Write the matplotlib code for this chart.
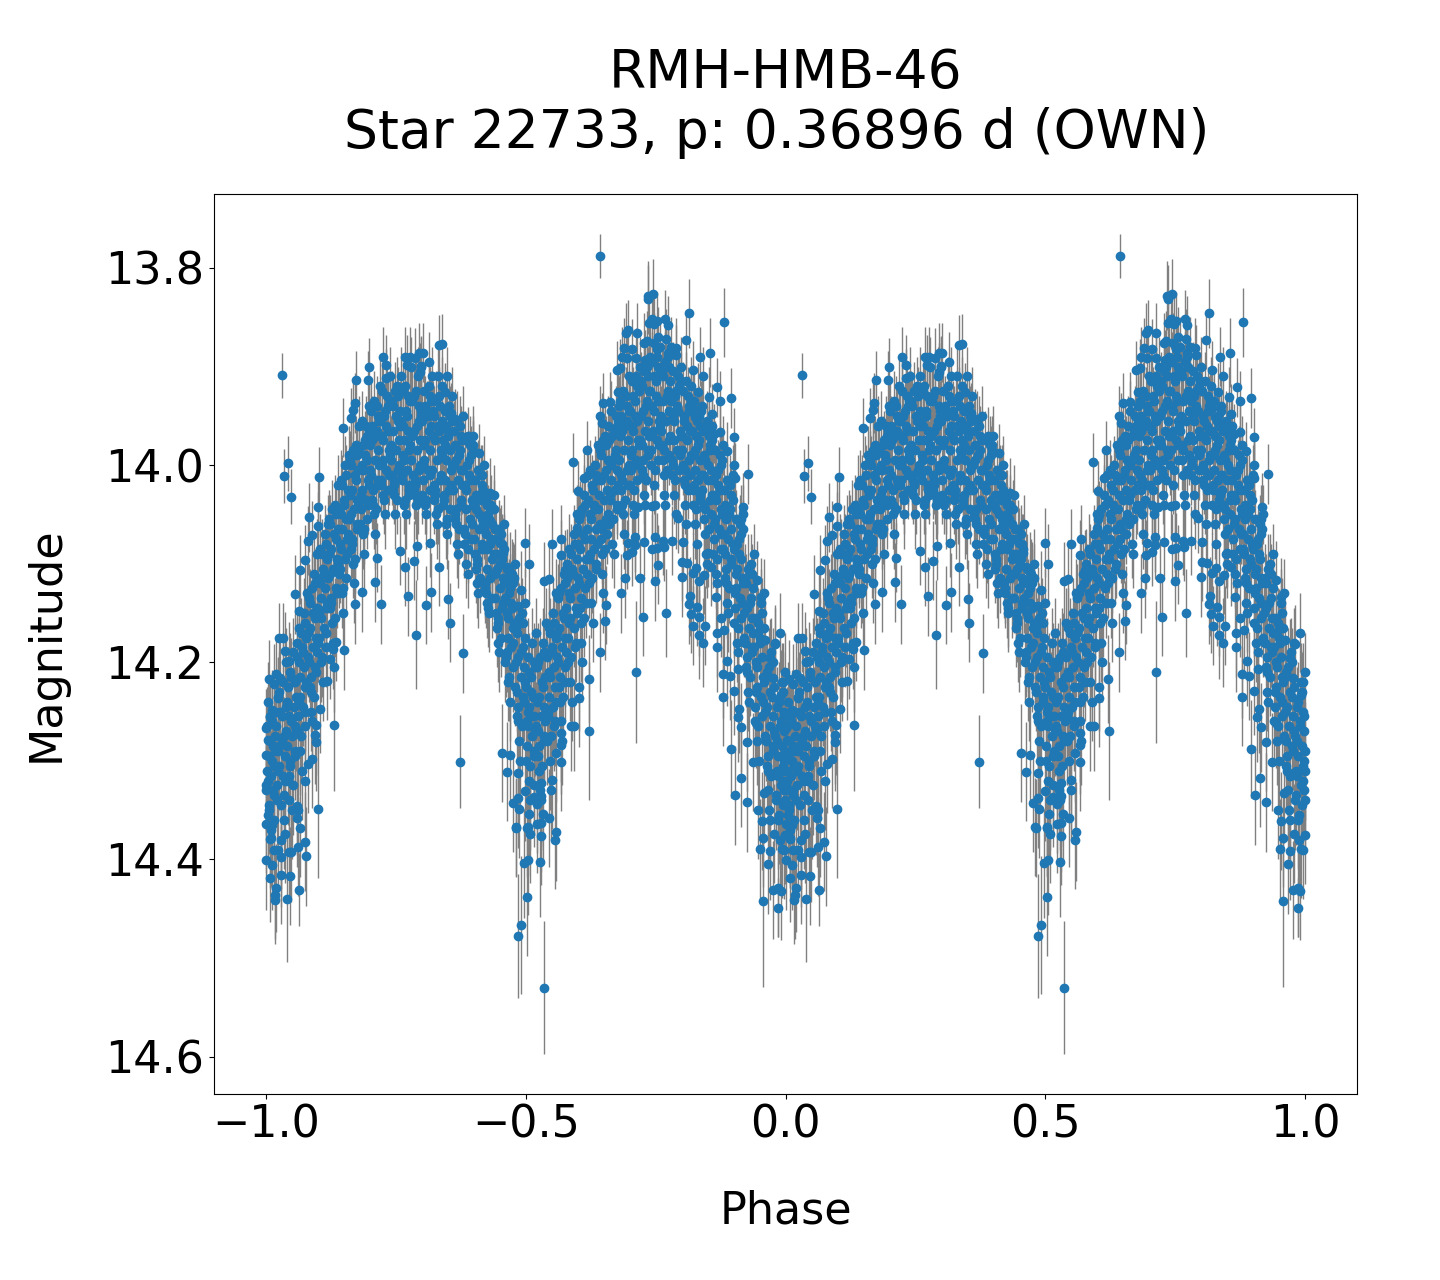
import numpy as np
import matplotlib
matplotlib.use("Agg")
import matplotlib.pyplot as plt

# points on the outline of the folded curve, read one by one
edge_phase = [
    .000, .001, .001, .001, .001, .003, .006, .008, .008, .008,
    .009, .012, .012, .015, .015, .017, .018, .020, .020, .024,
    .024, .025, .027, .029, .029, .0315, .032, .035, .037, .037,
    .040, .043, .045, .045, .047, .049, .049, .055, .059, .060,
    .062, .062, .064, .064, .066, .066, .075, .076, .076, .078,
    .080, .080, .083, .089, .089, .095, .0955, .0965, .0995, .0995,
    .0995, .103, .104, .118, .123, .130, .131, .1315, .135, .149,
    .151, .163, .168, .171, .172, .174, .185, .197, .199, .210,
    .213, .222, .225, .231, .232, .258, .268, .268, .272, .274,
    .277, .284, .287, .289, .291, .295, .296, .299, .302, .309,
    .314, .316, .318, .331, .334, .334, .339, .345, .349, .351,
    .354, .357, .364, .373, .380, .389, .398, .411, .416, .416,
    .426, .431, .432, .441, .450, .454, .457, .462, .463, .463,
    .470, .470, .475, .476, .476, .481, .482, .486, .486, .486,
    .486, .488, .491, .491, .497, .499, .499, .503, .503, .504,
    .505, .506, .507, .509, .515, .515, .522, .522, .528, .530,
    .530, .530, .530, .534, .5357, .536, .544, .545, .550, .550,
    .557, .558, .559, .567, .567, .567, .567, .568, .576, .587,
    .5915, .593, .599, .601, .603, .603, .604, .613, .617, .621,
    .622, .642, .642, .6435, .646, .649, .653, .655, .663, .675,
    .678, .682, .684, .685, .6897, .692, .693, .694, .695, .696,
    .697, .705, .705, .711, .711, .7125, .713, .714, .717, .720,
    .725, .728, .728, .730, .733, .7345, .736, .7365, .7425, .7425,
    .7445, .744, .746, .747, .749, .749, .752, .752, .752, .755,
    .755, .765, .767, .768, .770, .770, .773, .773, .781, .789,
    .790, .794, .800, .801, .802, .809, .811, .815, .815, .817,
    .819, .821, .821, .821, .822, .826, .828, .830, .832, .834,
    .834, .834, .836, .842, .842, .844, .846, .849, .850, .853,
    .855, .857, .858, .863, .866, .868, .868, .869, .874, .874,
    .875, .879, .879, .881, .882, .887, .888, .893, .896, .896,
    .901, .901, .901, .902, .903, .908, .909, .911, .914, .915,
    .915, .918, .925, .925, .928, .937, .944, .945, .948, .950,
    .951, .953, .954, .9575, .957, .959, .961, .967, .971, .971,
    .971, .976, .976, .978, .980, .986, .986, .990, .991, .993,
    .992, .996, .998, .999, .999, .999, .997, .999, .998, .997,
]
edge_mag = [
    14.267, 14.401, 14.294, 14.330, 14.364, 14.279, 14.217, 14.256, 14.379, 14.419,
    14.378, 14.248, 14.406, 14.222, 14.390, 14.441, 14.436, 14.429, 14.212, 14.236,
    14.390, 14.175, 14.216, 14.416, 14.398, 13.909, 14.175, 14.011, 14.189, 14.374,
    14.440, 13.998, 14.199, 14.393, 14.417, 14.032, 14.393, 14.131, 14.346, 14.358,
    14.350, 14.387, 14.148, 14.431, 14.106, 14.368, 14.382, 14.096, 14.320, 14.397,
    14.077, 14.303, 14.053, 14.071, 14.298, 14.274, 14.281, 14.264, 14.043, 14.062,
    14.349, 14.012, 14.247, 14.219, 14.197, 14.187, 14.205, 14.264, 14.179, 13.962,
    14.188, 13.952, 13.944, 13.937, 14.141, 13.914, 14.129, 13.914, 13.901, 14.119,
    14.094, 14.141, 13.890, 13.912, 13.898, 14.087, 13.890, 14.103, 13.898, 14.133,
    13.890, 14.097, 13.891, 14.172, 14.082, 13.886, 13.906, 13.899, 13.886, 14.142,
    13.895, 14.079, 14.129, 13.910, 14.103, 13.878, 13.877, 13.926, 13.910, 14.136,
    14.160, 13.947, 13.953, 14.301, 14.191, 13.971, 13.980, 13.988, 14.010, 14.028,
    14.040, 14.057, 14.028, 14.065, 14.079, 14.292, 14.089, 14.118, 14.103, 14.311,
    14.108, 14.294, 14.118, 14.143, 14.343, 14.367, 14.368, 14.143, 14.338, 14.312,
    14.478, 14.349, 14.127, 14.467, 14.404, 14.079, 14.331, 14.438, 14.368, 14.367,
    14.401, 14.100, 14.354, 14.374, 14.325, 14.337, 14.344, 14.364, 14.403, 14.323,
    14.336, 14.363, 14.376, 14.354, 14.530, 14.118, 14.116, 14.358, 14.080, 14.319,
    14.380, 14.292, 14.372, 14.091, 14.272, 14.284, 14.301, 14.075, 14.106, 14.265,
    13.997, 14.265, 14.064, 14.026, 14.225, 14.236, 14.051, 14.013, 13.985, 14.217,
    14.270, 13.950, 14.190, 13.788, 13.957, 13.937, 14.158, 14.142, 13.936, 13.904,
    13.926, 13.902, 14.130, 13.890, 13.881, 14.115, 13.866, 14.091, 13.891, 14.079,
    13.863, 13.882, 14.088, 14.073, 14.081, 14.210, 13.891, 13.866, 14.043, 14.115,
    14.154, 13.876, 14.078, 13.893, 13.874, 13.828, 13.832, 13.856, 13.852, 14.041,
    13.826, 14.085, 13.876, 13.857, 14.073, 14.118, 13.854, 13.882, 14.084, 13.870,
    14.101, 14.077, 14.083, 13.852, 13.872, 14.150, 13.858, 13.886, 14.077, 13.881,
    13.888, 14.054, 14.114, 14.098, 14.078, 13.873, 14.099, 13.846, 14.141, 14.133,
    14.151, 13.904, 13.942, 14.109, 14.163, 13.951, 14.104, 14.144, 13.926, 14.118,
    14.154, 14.172, 13.890, 13.910, 14.180, 14.111, 14.163, 13.962, 14.089, 13.931,
    13.886, 14.103, 13.948, 13.968, 14.134, 14.170, 14.185, 13.921, 13.935, 13.966,
    14.155, 14.212, 14.235, 13.855, 14.167, 13.986, 14.199, 14.214, 13.932, 14.288,
    13.972, 14.000, 14.229, 14.013, 14.335, 14.256, 14.207, 14.247, 14.317, 14.055,
    14.266, 14.043, 14.281, 14.342, 14.009, 14.301, 14.262, 14.117, 14.350, 14.166,
    14.389, 14.134, 14.361, 14.442, 14.378, 14.333, 14.177, 14.405, 14.360, 14.391,
    14.196, 14.216, 14.431, 14.374, 14.182, 14.449, 14.429, 14.170, 14.432, 14.389,
    14.233, 14.220, 14.270, 14.310, 14.340, 14.375, 14.390, 14.290, 14.330, 14.250,
]
edge_err = [
    .04, .05, .04, .045, .05, .04, .04, .04, .05, .045,
    .05, .04, .045, .04, .05, .045, .045, .045, .04, .04,
    .05, .035, .04, .05, .05, .023, .035, .027, .04, .05,
    .064, .028, .04, .05, .05, .028, .05, .04, .05, .05,
    .05, .05, .04, .037, .035, .05, .05, .035, .05, .05,
    .035, .05, .035, .035, .05, .05, .05, .05, .03, .035,
    .07, .03, .045, .04, .04, .04, .045, .067, .04, .03,
    .04, .03, .03, .03, .04, .03, .04, .03, .03, .04,
    .035, .04, .03, .03, .03, .035, .03, .04, .03, .04,
    .03, .04, .03, .055, .035, .03, .03, .03, .03, .04,
    .03, .035, .04, .03, .04, .03, .03, .03, .03, .04,
    .04, .03, .03, .047, .04, .03, .03, .03, .03, .03,
    .035, .035, .035, .035, .035, .05, .035, .04, .04, .05,
    .04, .05, .04, .04, .05, .05, .05, .04, .05, .05,
    .063, .05, .04, .07, .055, .035, .05, .06, .05, .05,
    .055, .04, .05, .05, .05, .05, .05, .05, .055, .05,
    .05, .05, .05, .05, .067, .04, .04, .05, .035, .05,
    .05, .05, .05, .035, .05, .05, .05, .035, .04, .045,
    .03, .045, .035, .03, .045, .05, .035, .03, .03, .045,
    .07, .03, .04, .022, .03, .03, .04, .04, .03, .03,
    .03, .03, .04, .03, .03, .04, .03, .035, .03, .035,
    .03, .03, .035, .035, .035, .072, .03, .03, .035, .04,
    .04, .03, .035, .03, .03, .035, .035, .03, .03, .035,
    .035, .035, .03, .03, .035, .04, .03, .03, .035, .03,
    .04, .035, .035, .03, .03, .045, .03, .03, .035, .03,
    .03, .035, .04, .04, .035, .03, .04, .035, .04, .04,
    .04, .03, .03, .04, .04, .03, .04, .04, .03, .04,
    .04, .045, .03, .03, .045, .04, .04, .03, .035, .03,
    .035, .04, .03, .03, .04, .045, .045, .03, .03, .03,
    .04, .045, .05, .035, .045, .03, .045, .045, .03, .05,
    .03, .03, .045, .035, .05, .045, .045, .045, .05, .035,
    .045, .035, .05, .05, .03, .05, .045, .04, .05, .04,
    .05, .04, .05, .087, .05, .05, .04, .05, .05, .05,
    .04, .04, .05, .05, .04, .03, .05, .04, .05, .05,
    .045, .04, .045, .05, .05, .05, .05, .05, .05, .045,
]

# the filled body of the curve, twelve readings per 0.02 of phase
core_phase = [
    .002, .011, .006, .017, .004, .014, .009, .019, .003, .012, .016, .007,
    .024, .033, .021, .038, .027, .036, .029, .039, .023, .031, .035, .026,
    .041, .053, .046, .058, .044, .056, .049, .059, .043, .051, .055, .047,
    .064, .073, .061, .078, .067, .076, .069, .079, .063, .071, .075, .066,
    .081, .093, .086, .098, .084, .096, .089, .099, .083, .091, .095, .087,
    .104, .113, .101, .118, .107, .116, .109, .119, .103, .111, .115, .106,
    .121, .133, .126, .138, .124, .136, .129, .139, .123, .131, .135, .127,
    .144, .153, .141, .158, .147, .156, .149, .159, .143, .151, .155, .146,
    .161, .173, .166, .178, .164, .176, .169, .179, .163, .171, .175, .167,
    .184, .193, .181, .198, .187, .196, .189, .199, .183, .191, .195, .186,
    .201, .213, .206, .218, .204, .216, .209, .219, .203, .211, .215, .207,
    .224, .233, .221, .238, .227, .236, .229, .239, .223, .231, .235, .226,
    .241, .253, .246, .258, .244, .256, .249, .259, .243, .251, .255, .247,
    .264, .273, .261, .278, .267, .276, .269, .279, .263, .271, .275, .266,
    .281, .293, .286, .298, .284, .296, .289, .299, .283, .291, .295, .287,
    .304, .313, .301, .318, .307, .316, .309, .319, .303, .311, .315, .306,
    .321, .333, .326, .338, .324, .336, .329, .339, .323, .331, .335, .327,
    .344, .353, .341, .358, .347, .356, .349, .359, .343, .351, .355, .346,
    .361, .373, .366, .378, .364, .376, .369, .379, .363, .371, .375, .367,
    .384, .393, .381, .398, .387, .396, .389, .399, .383, .391, .395, .386,
    .401, .413, .406, .418, .404, .416, .409, .419, .403, .411, .415, .407,
    .424, .433, .421, .438, .427, .436, .429, .439, .423, .431, .435, .426,
    .441, .453, .446, .458, .444, .456, .449, .459, .443, .451, .455, .447,
    .464, .473, .461, .478, .467, .476, .469, .479, .463, .471, .475, .466,
    .481, .493, .486, .498, .484, .496, .489, .499, .483, .491, .495, .487,
    .504, .513, .501, .518, .507, .516, .509, .519, .503, .511, .515, .506,
    .521, .533, .526, .538, .524, .536, .529, .539, .523, .531, .535, .527,
    .544, .553, .541, .558, .547, .556, .549, .559, .543, .551, .555, .546,
    .561, .573, .566, .578, .564, .576, .569, .579, .563, .571, .575, .567,
    .584, .593, .581, .598, .587, .596, .589, .599, .583, .591, .595, .586,
    .601, .613, .606, .618, .604, .616, .609, .619, .603, .611, .615, .607,
    .624, .633, .621, .638, .627, .636, .629, .639, .623, .631, .635, .626,
    .641, .653, .646, .658, .644, .656, .649, .659, .643, .651, .655, .647,
    .664, .673, .661, .678, .667, .676, .669, .679, .663, .671, .675, .666,
    .681, .693, .686, .698, .684, .696, .689, .699, .683, .691, .695, .687,
    .704, .713, .701, .718, .707, .716, .709, .719, .703, .711, .715, .706,
    .721, .733, .726, .738, .724, .736, .729, .739, .723, .731, .735, .727,
    .744, .753, .741, .758, .747, .756, .749, .759, .743, .751, .755, .746,
    .761, .773, .766, .778, .764, .776, .769, .779, .763, .771, .775, .767,
    .784, .793, .781, .798, .787, .796, .789, .799, .783, .791, .795, .786,
    .801, .813, .806, .818, .804, .816, .809, .819, .803, .811, .815, .807,
    .824, .833, .821, .838, .827, .836, .829, .839, .823, .831, .835, .826,
    .841, .853, .846, .858, .844, .856, .849, .859, .843, .851, .855, .847,
    .864, .873, .861, .878, .867, .876, .869, .879, .863, .871, .875, .866,
    .881, .893, .886, .898, .884, .896, .889, .899, .883, .891, .895, .887,
    .904, .913, .901, .918, .907, .916, .909, .919, .903, .911, .915, .906,
    .921, .933, .926, .938, .924, .936, .929, .939, .923, .931, .935, .927,
    .944, .953, .941, .958, .947, .956, .949, .959, .943, .951, .955, .946,
    .961, .973, .966, .978, .964, .976, .969, .979, .963, .971, .975, .967,
    .984, .993, .981, .998, .987, .996, .989, .999, .983, .991, .995, .986,
]
core_mag = [
    14.31, 14.26, 14.35, 14.29, 14.24, 14.33, 14.37, 14.25, 14.32, 14.30, 14.36, 14.28,
    14.29, 14.22, 14.34, 14.27, 14.25, 14.32, 14.38, 14.20, 14.31, 14.28, 14.36, 14.23,
    14.24, 14.19, 14.30, 14.27, 14.34, 14.22, 14.26, 14.18, 14.32, 14.35, 14.29, 14.21,
    14.20, 14.15, 14.27, 14.22, 14.17, 14.25, 14.31, 14.13, 14.24, 14.19, 14.16, 14.29,
    14.17, 14.11, 14.23, 14.19, 14.14, 14.21, 14.26, 14.09, 14.20, 14.15, 14.12, 14.25,
    14.12, 14.07, 14.18, 14.14, 14.09, 14.17, 14.22, 14.06, 14.15, 14.11, 14.08, 14.20,
    14.09, 14.04, 14.14, 14.10, 14.06, 14.13, 14.18, 14.02, 14.11, 14.07, 14.05, 14.16,
    14.05, 14.00, 14.11, 14.07, 14.02, 14.09, 14.15, 13.99, 14.08, 14.04, 14.01, 14.13,
    14.03, 13.98, 14.08, 14.04, 14.00, 14.06, 14.12, 13.96, 14.05, 14.01, 13.99, 14.10,
    14.00, 13.96, 14.06, 14.02, 13.98, 14.04, 14.09, 13.94, 14.03, 13.99, 13.97, 14.07,
    13.98, 13.94, 14.04, 14.00, 13.96, 14.02, 14.07, 13.92, 14.01, 13.97, 13.95, 14.05,
    13.97, 13.93, 14.02, 13.99, 13.95, 14.01, 14.05, 13.91, 14.00, 13.96, 13.94, 14.03,
    13.98, 13.92, 14.03, 13.96, 13.94, 14.00, 14.05, 13.91, 14.01, 13.95, 13.93, 14.02,
    13.96, 13.93, 14.01, 13.98, 13.92, 14.03, 14.05, 13.90, 13.99, 13.95, 14.02, 14.04,
    13.97, 13.91, 14.02, 13.95, 13.93, 14.00, 14.04, 13.90, 14.01, 13.96, 13.94, 14.03,
    13.98, 13.92, 14.03, 13.96, 13.94, 14.01, 14.05, 13.91, 14.00, 13.95, 13.93, 14.04,
    13.97, 13.93, 14.03, 13.99, 13.95, 14.01, 14.06, 13.92, 14.02, 13.96, 13.94, 14.05,
    13.98, 13.94, 14.04, 14.00, 13.96, 14.02, 14.07, 13.93, 14.03, 13.97, 13.95, 14.06,
    14.00, 13.96, 14.06, 14.02, 13.98, 14.04, 14.09, 13.95, 14.05, 13.99, 13.97, 14.08,
    14.02, 13.98, 14.08, 14.04, 14.00, 14.06, 14.11, 13.97, 14.07, 14.01, 13.99, 14.10,
    14.04, 14.01, 14.10, 14.06, 14.03, 14.08, 14.13, 14.00, 14.09, 14.05, 14.02, 14.12,
    14.07, 14.04, 14.12, 14.09, 14.05, 14.11, 14.15, 14.03, 14.13, 14.08, 14.06, 14.14,
    14.11, 14.07, 14.16, 14.12, 14.09, 14.14, 14.19, 14.06, 14.15, 14.10, 14.08, 14.18,
    14.15, 14.11, 14.20, 14.16, 14.13, 14.18, 14.24, 14.10, 14.19, 14.14, 14.12, 14.22,
    14.20, 14.15, 14.26, 14.22, 14.17, 14.24, 14.30, 14.14, 14.23, 14.19, 14.16, 14.28,
    14.25, 14.18, 14.30, 14.27, 14.21, 14.29, 14.34, 14.17, 14.26, 14.23, 14.20, 14.32,
    14.24, 14.18, 14.31, 14.26, 14.20, 14.28, 14.34, 14.16, 14.27, 14.22, 14.19, 14.33,
    14.21, 14.15, 14.28, 14.24, 14.17, 14.26, 14.33, 14.13, 14.25, 14.19, 14.16, 14.30,
    14.17, 14.11, 14.24, 14.19, 14.13, 14.22, 14.28, 14.10, 14.20, 14.15, 14.12, 14.26,
    14.13, 14.07, 14.20, 14.15, 14.09, 14.18, 14.24, 14.05, 14.16, 14.11, 14.08, 14.22,
    14.08, 14.03, 14.16, 14.11, 14.05, 14.14, 14.20, 14.01, 14.12, 14.07, 14.04, 14.18,
    14.05, 14.00, 14.12, 14.08, 14.02, 14.10, 14.16, 13.98, 14.09, 14.04, 14.01, 14.14,
    14.03, 13.97, 14.09, 14.05, 13.99, 14.07, 14.13, 13.96, 14.06, 14.01, 13.98, 14.11,
    14.00, 13.95, 14.06, 14.02, 13.97, 14.04, 14.09, 13.94, 14.03, 13.99, 13.96, 14.08,
    13.97, 13.93, 14.04, 14.00, 13.95, 14.02, 14.07, 13.91, 14.01, 13.96, 13.94, 14.05,
    13.96, 13.91, 14.02, 13.98, 13.93, 14.00, 14.05, 13.90, 13.99, 13.95, 13.92, 14.04,
    13.95, 13.90, 14.01, 13.97, 13.92, 13.99, 14.04, 13.89, 13.98, 13.94, 13.91, 14.03,
    13.94, 13.89, 14.00, 13.96, 13.91, 13.98, 14.04, 13.88, 13.97, 13.93, 13.90, 14.02,
    13.95, 13.89, 14.01, 13.97, 13.91, 13.99, 14.04, 13.88, 13.98, 13.93, 13.90, 14.03,
    13.95, 13.91, 14.01, 13.97, 13.93, 13.99, 14.05, 13.90, 14.00, 13.94, 13.92, 14.03,
    13.97, 13.93, 14.02, 13.99, 13.95, 14.01, 14.06, 13.92, 14.00, 13.96, 13.94, 14.04,
    13.99, 13.95, 14.04, 14.01, 13.97, 14.03, 14.08, 13.94, 14.02, 13.98, 13.96, 14.06,
    14.01, 13.97, 14.07, 14.03, 13.99, 14.05, 14.10, 13.96, 14.04, 14.00, 13.98, 14.09,
    14.03, 13.99, 14.09, 14.05, 14.01, 14.07, 14.12, 13.98, 14.06, 14.02, 14.00, 14.11,
    14.07, 14.02, 14.12, 14.08, 14.04, 14.10, 14.15, 14.01, 14.09, 14.05, 14.03, 14.14,
    14.11, 14.06, 14.16, 14.12, 14.08, 14.14, 14.19, 14.05, 14.13, 14.09, 14.07, 14.18,
    14.15, 14.10, 14.21, 14.17, 14.12, 14.19, 14.24, 14.09, 14.18, 14.14, 14.11, 14.23,
    14.20, 14.14, 14.26, 14.22, 14.16, 14.24, 14.30, 14.13, 14.23, 14.18, 14.15, 14.28,
    14.25, 14.19, 14.31, 14.27, 14.21, 14.29, 14.35, 14.18, 14.28, 14.23, 14.20, 14.33,
    14.28, 14.22, 14.34, 14.30, 14.24, 14.32, 14.38, 14.21, 14.31, 14.26, 14.23, 14.36,
]
core_err = [
    .04, .04, .045, .04, .04, .045, .05, .04, .045, .04, .05, .04,
    .04, .04, .045, .04, .04, .045, .05, .035, .045, .04, .05, .04,
    .04, .035, .04, .04, .05, .04, .04, .035, .045, .05, .04, .04,
    .04, .035, .04, .04, .035, .04, .05, .035, .04, .04, .035, .045,
    .035, .035, .04, .04, .035, .04, .04, .035, .04, .035, .035, .04,
    .035, .03, .04, .035, .035, .035, .04, .03, .035, .035, .03, .04,
    .035, .03, .035, .035, .03, .035, .04, .03, .035, .03, .03, .04,
    .03, .03, .035, .03, .03, .035, .04, .03, .035, .03, .03, .035,
    .03, .03, .035, .03, .03, .03, .04, .03, .03, .03, .03, .035,
    .03, .03, .035, .03, .03, .03, .035, .03, .03, .03, .03, .035,
    .03, .03, .03, .03, .03, .03, .035, .03, .03, .03, .03, .035,
    .03, .03, .03, .03, .03, .03, .035, .03, .03, .03, .03, .03,
    .03, .03, .03, .03, .03, .03, .035, .03, .03, .03, .03, .03,
    .03, .03, .03, .03, .03, .03, .035, .03, .03, .03, .03, .03,
    .03, .03, .03, .03, .03, .03, .035, .03, .03, .03, .03, .03,
    .03, .03, .03, .03, .03, .03, .035, .03, .03, .03, .03, .03,
    .03, .03, .03, .03, .03, .03, .035, .03, .03, .03, .03, .03,
    .03, .03, .03, .03, .03, .03, .035, .03, .03, .03, .03, .035,
    .03, .03, .035, .03, .03, .03, .035, .03, .03, .03, .03, .035,
    .03, .03, .035, .03, .03, .03, .035, .03, .035, .03, .03, .035,
    .03, .03, .035, .03, .03, .035, .035, .03, .035, .03, .03, .035,
    .03, .03, .035, .03, .03, .035, .04, .03, .035, .03, .03, .035,
    .035, .03, .04, .035, .03, .035, .04, .03, .035, .035, .03, .04,
    .035, .035, .04, .035, .035, .04, .04, .035, .04, .035, .035, .04,
    .04, .035, .045, .04, .035, .04, .05, .035, .04, .04, .035, .045,
    .04, .035, .05, .045, .04, .045, .05, .035, .045, .04, .04, .05,
    .04, .035, .05, .045, .04, .045, .05, .035, .045, .04, .04, .05,
    .04, .035, .045, .04, .035, .045, .05, .035, .045, .04, .035, .05,
    .04, .035, .04, .04, .035, .04, .045, .035, .04, .035, .035, .045,
    .035, .03, .04, .035, .03, .04, .04, .03, .04, .035, .03, .04,
    .03, .03, .04, .035, .03, .035, .04, .03, .035, .03, .03, .04,
    .03, .03, .035, .03, .03, .035, .04, .03, .03, .03, .03, .035,
    .03, .03, .03, .03, .03, .03, .04, .03, .03, .03, .03, .035,
    .03, .03, .03, .03, .03, .03, .035, .03, .03, .03, .03, .035,
    .03, .03, .03, .03, .03, .03, .035, .03, .03, .03, .03, .03,
    .03, .03, .03, .03, .03, .03, .035, .03, .03, .03, .03, .03,
    .03, .03, .03, .03, .03, .03, .035, .03, .03, .03, .03, .03,
    .03, .03, .03, .03, .03, .03, .035, .03, .03, .03, .03, .03,
    .03, .03, .03, .03, .03, .03, .035, .03, .03, .03, .03, .03,
    .03, .03, .03, .03, .03, .03, .035, .03, .03, .03, .03, .03,
    .03, .03, .03, .03, .03, .03, .035, .03, .03, .03, .03, .03,
    .03, .03, .03, .03, .03, .03, .035, .03, .03, .03, .03, .035,
    .03, .03, .035, .03, .03, .03, .035, .03, .03, .03, .03, .035,
    .03, .03, .035, .03, .03, .03, .035, .03, .03, .03, .03, .035,
    .03, .03, .035, .03, .03, .035, .04, .03, .03, .03, .03, .035,
    .035, .03, .035, .035, .03, .035, .04, .03, .035, .03, .03, .04,
    .035, .03, .04, .035, .03, .04, .04, .03, .035, .035, .03, .04,
    .035, .035, .04, .04, .035, .04, .05, .035, .04, .035, .035, .045,
    .04, .035, .045, .04, .035, .04, .05, .035, .04, .04, .035, .05,
    .04, .04, .05, .045, .04, .045, .05, .04, .045, .04, .04, .05,
]

# denser middle of the band, also twelve readings per 0.02 of phase
mid_phase = [
    .000, .002, .004, .005, .006, .008, .010, .012, .014, .015, .016, .018,
    .020, .022, .024, .025, .026, .028, .030, .032, .034, .035, .036, .038,
    .040, .042, .044, .045, .046, .048, .050, .052, .054, .055, .056, .058,
    .060, .062, .064, .065, .066, .068, .070, .072, .074, .075, .076, .078,
    .080, .082, .084, .085, .086, .088, .090, .092, .094, .095, .096, .098,
    .100, .102, .104, .105, .106, .108, .110, .112, .114, .115, .116, .118,
    .120, .122, .124, .125, .126, .128, .130, .132, .134, .135, .136, .138,
    .140, .142, .144, .145, .146, .148, .150, .152, .154, .155, .156, .158,
    .160, .162, .164, .165, .166, .168, .170, .172, .174, .175, .176, .178,
    .180, .182, .184, .185, .186, .188, .190, .192, .194, .195, .196, .198,
    .200, .202, .204, .205, .206, .208, .210, .212, .214, .215, .216, .218,
    .220, .222, .224, .225, .226, .228, .230, .232, .234, .235, .236, .238,
    .240, .242, .244, .245, .246, .248, .250, .252, .254, .255, .256, .258,
    .260, .262, .264, .265, .266, .268, .270, .272, .274, .275, .276, .278,
    .280, .282, .284, .285, .286, .288, .290, .292, .294, .295, .296, .298,
    .300, .302, .304, .305, .306, .308, .310, .312, .314, .315, .316, .318,
    .320, .322, .324, .325, .326, .328, .330, .332, .334, .335, .336, .338,
    .340, .342, .344, .345, .346, .348, .350, .352, .354, .355, .356, .358,
    .360, .362, .364, .365, .366, .368, .370, .372, .374, .375, .376, .378,
    .380, .382, .384, .385, .386, .388, .390, .392, .394, .395, .396, .398,
    .400, .402, .404, .405, .406, .408, .410, .412, .414, .415, .416, .418,
    .420, .422, .424, .425, .426, .428, .430, .432, .434, .435, .436, .438,
    .440, .442, .444, .445, .446, .448, .450, .452, .454, .455, .456, .458,
    .460, .462, .464, .465, .466, .468, .470, .472, .474, .475, .476, .478,
    .480, .482, .484, .485, .486, .488, .490, .492, .494, .495, .496, .498,
    .500, .502, .504, .505, .506, .508, .510, .512, .514, .515, .516, .518,
    .520, .522, .524, .525, .526, .528, .530, .532, .534, .535, .536, .538,
    .540, .542, .544, .545, .546, .548, .550, .552, .554, .555, .556, .558,
    .560, .562, .564, .565, .566, .568, .570, .572, .574, .575, .576, .578,
    .580, .582, .584, .585, .586, .588, .590, .592, .594, .595, .596, .598,
    .600, .602, .604, .605, .606, .608, .610, .612, .614, .615, .616, .618,
    .620, .622, .624, .625, .626, .628, .630, .632, .634, .635, .636, .638,
    .640, .642, .644, .645, .646, .648, .650, .652, .654, .655, .656, .658,
    .660, .662, .664, .665, .666, .668, .670, .672, .674, .675, .676, .678,
    .680, .682, .684, .685, .686, .688, .690, .692, .694, .695, .696, .698,
    .700, .702, .704, .705, .706, .708, .710, .712, .714, .715, .716, .718,
    .720, .722, .724, .725, .726, .728, .730, .732, .734, .735, .736, .738,
    .740, .742, .744, .745, .746, .748, .750, .752, .754, .755, .756, .758,
    .760, .762, .764, .765, .766, .768, .770, .772, .774, .775, .776, .778,
    .780, .782, .784, .785, .786, .788, .790, .792, .794, .795, .796, .798,
    .800, .802, .804, .805, .806, .808, .810, .812, .814, .815, .816, .818,
    .820, .822, .824, .825, .826, .828, .830, .832, .834, .835, .836, .838,
    .840, .842, .844, .845, .846, .848, .850, .852, .854, .855, .856, .858,
    .860, .862, .864, .865, .866, .868, .870, .872, .874, .875, .876, .878,
    .880, .882, .884, .885, .886, .888, .890, .892, .894, .895, .896, .898,
    .900, .902, .904, .905, .906, .908, .910, .912, .914, .915, .916, .918,
    .920, .922, .924, .925, .926, .928, .930, .932, .934, .935, .936, .938,
    .940, .942, .944, .945, .946, .948, .950, .952, .954, .955, .956, .958,
    .960, .962, .964, .965, .966, .968, .970, .972, .974, .975, .976, .978,
    .980, .982, .984, .985, .986, .988, .990, .992, .994, .995, .996, .998,
]
mid_mag = [
    14.325, 14.265, 14.355, 14.295, 14.345, 14.255, 14.315, 14.365, 14.285, 14.335, 14.305, 14.275,
    14.265, 14.325, 14.235, 14.305, 14.285, 14.345, 14.255, 14.315, 14.275, 14.335, 14.295, 14.245,
    14.285, 14.225, 14.315, 14.255, 14.305, 14.215, 14.275, 14.325, 14.245, 14.295, 14.265, 14.235,
    14.195, 14.255, 14.165, 14.235, 14.215, 14.275, 14.185, 14.245, 14.205, 14.265, 14.225, 14.175,
    14.195, 14.135, 14.225, 14.165, 14.215, 14.125, 14.185, 14.235, 14.155, 14.205, 14.175, 14.145,
    14.115, 14.175, 14.085, 14.155, 14.135, 14.195, 14.105, 14.165, 14.125, 14.185, 14.145, 14.095,
    14.115, 14.055, 14.145, 14.085, 14.135, 14.045, 14.105, 14.155, 14.075, 14.125, 14.095, 14.065,
    14.045, 14.105, 14.015, 14.085, 14.065, 14.125, 14.035, 14.095, 14.055, 14.115, 14.075, 14.025,
    14.055, 13.995, 14.085, 14.025, 14.075, 13.985, 14.045, 14.095, 14.015, 14.065, 14.035, 14.005,
    13.985, 14.045, 13.955, 14.025, 14.005, 14.065, 13.975, 14.035, 13.995, 14.055, 14.015, 13.965,
    14.005, 13.945, 14.035, 13.975, 14.025, 13.935, 13.995, 14.045, 13.965, 14.015, 13.985, 13.955,
    13.955, 14.015, 13.925, 13.995, 13.975, 14.035, 13.945, 14.005, 13.965, 14.025, 13.985, 13.935,
    13.995, 13.935, 14.025, 13.965, 14.015, 13.925, 13.985, 14.035, 13.955, 14.005, 13.975, 13.945,
    13.955, 14.015, 13.925, 13.995, 13.975, 14.035, 13.945, 14.005, 13.965, 14.025, 13.985, 13.935,
    13.995, 13.935, 14.025, 13.965, 14.015, 13.925, 13.985, 14.035, 13.955, 14.005, 13.975, 13.945,
    13.955, 14.015, 13.925, 13.995, 13.975, 14.035, 13.945, 14.005, 13.965, 14.025, 13.985, 13.935,
    14.005, 13.945, 14.035, 13.975, 14.025, 13.935, 13.995, 14.045, 13.965, 14.015, 13.985, 13.955,
    13.975, 14.035, 13.945, 14.015, 13.995, 14.055, 13.965, 14.025, 13.985, 14.045, 14.005, 13.955,
    14.025, 13.965, 14.055, 13.995, 14.045, 13.955, 14.015, 14.065, 13.985, 14.035, 14.005, 13.975,
    14.005, 14.065, 13.975, 14.045, 14.025, 14.085, 13.995, 14.055, 14.015, 14.075, 14.035, 13.985,
    14.075, 14.015, 14.105, 14.045, 14.095, 14.005, 14.065, 14.115, 14.035, 14.085, 14.055, 14.025,
    14.065, 14.125, 14.035, 14.105, 14.085, 14.145, 14.055, 14.115, 14.075, 14.135, 14.095, 14.045,
    14.135, 14.075, 14.165, 14.105, 14.155, 14.065, 14.125, 14.175, 14.095, 14.145, 14.115, 14.085,
    14.135, 14.195, 14.105, 14.175, 14.155, 14.215, 14.125, 14.185, 14.145, 14.205, 14.165, 14.115,
    14.225, 14.165, 14.255, 14.195, 14.245, 14.155, 14.215, 14.265, 14.185, 14.235, 14.205, 14.175,
    14.225, 14.285, 14.195, 14.265, 14.245, 14.305, 14.215, 14.275, 14.235, 14.295, 14.255, 14.205,
    14.265, 14.205, 14.295, 14.235, 14.285, 14.195, 14.255, 14.305, 14.225, 14.275, 14.245, 14.215,
    14.195, 14.255, 14.165, 14.235, 14.215, 14.275, 14.185, 14.245, 14.205, 14.265, 14.225, 14.175,
    14.195, 14.135, 14.225, 14.165, 14.215, 14.125, 14.185, 14.235, 14.155, 14.205, 14.175, 14.145,
    14.115, 14.175, 14.085, 14.155, 14.135, 14.195, 14.105, 14.165, 14.125, 14.185, 14.145, 14.095,
    14.115, 14.055, 14.145, 14.085, 14.135, 14.045, 14.105, 14.155, 14.075, 14.125, 14.095, 14.065,
    14.035, 14.095, 14.005, 14.075, 14.055, 14.115, 14.025, 14.085, 14.045, 14.105, 14.065, 14.015,
    14.045, 13.985, 14.075, 14.015, 14.065, 13.975, 14.035, 14.085, 14.005, 14.055, 14.025, 13.995,
    13.975, 14.035, 13.945, 14.015, 13.995, 14.055, 13.965, 14.025, 13.985, 14.045, 14.005, 13.955,
    13.995, 13.935, 14.025, 13.965, 14.015, 13.925, 13.985, 14.035, 13.955, 14.005, 13.975, 13.945,
    13.945, 14.005, 13.915, 13.985, 13.965, 14.025, 13.935, 13.995, 13.955, 14.015, 13.975, 13.925,
    13.975, 13.915, 14.005, 13.945, 13.995, 13.905, 13.965, 14.015, 13.935, 13.985, 13.955, 13.925,
    13.925, 13.985, 13.895, 13.965, 13.945, 14.005, 13.915, 13.975, 13.935, 13.995, 13.955, 13.905,
    13.965, 13.905, 13.995, 13.935, 13.985, 13.895, 13.955, 14.005, 13.925, 13.975, 13.945, 13.915,
    13.935, 13.995, 13.905, 13.975, 13.955, 14.015, 13.925, 13.985, 13.945, 14.005, 13.965, 13.915,
    13.985, 13.925, 14.015, 13.955, 14.005, 13.915, 13.975, 14.025, 13.945, 13.995, 13.965, 13.935,
    13.965, 14.025, 13.935, 14.005, 13.985, 14.045, 13.955, 14.015, 13.975, 14.035, 13.995, 13.945,
    14.025, 13.965, 14.055, 13.995, 14.045, 13.955, 14.015, 14.065, 13.985, 14.035, 14.005, 13.975,
    14.015, 14.075, 13.985, 14.055, 14.035, 14.095, 14.005, 14.065, 14.025, 14.085, 14.045, 13.995,
    14.085, 14.025, 14.115, 14.055, 14.105, 14.015, 14.075, 14.125, 14.045, 14.095, 14.065, 14.035,
    14.085, 14.145, 14.055, 14.125, 14.105, 14.165, 14.075, 14.135, 14.095, 14.155, 14.115, 14.065,
    14.175, 14.115, 14.205, 14.145, 14.195, 14.105, 14.165, 14.215, 14.135, 14.185, 14.155, 14.125,
    14.185, 14.245, 14.155, 14.225, 14.205, 14.265, 14.175, 14.235, 14.195, 14.255, 14.215, 14.165,
    14.275, 14.215, 14.305, 14.245, 14.295, 14.205, 14.265, 14.315, 14.235, 14.285, 14.255, 14.225,
    14.275, 14.335, 14.245, 14.315, 14.295, 14.355, 14.265, 14.325, 14.285, 14.345, 14.305, 14.255,
]
mid_err = [
    .045, .04, .05, .04, .045, .04, .045, .05, .04, .045, .04, .04,
    .04, .045, .04, .045, .04, .05, .04, .045, .04, .05, .04, .04,
    .04, .04, .045, .04, .045, .04, .04, .05, .04, .045, .04, .04,
    .04, .04, .035, .04, .04, .045, .04, .04, .04, .045, .04, .035,
    .04, .035, .04, .035, .04, .035, .04, .04, .035, .04, .035, .035,
    .035, .04, .035, .035, .035, .04, .035, .035, .035, .04, .035, .035,
    .035, .03, .035, .035, .035, .03, .035, .04, .03, .035, .035, .03,
    .03, .035, .03, .035, .03, .035, .03, .035, .03, .035, .03, .03,
    .03, .03, .035, .03, .035, .03, .03, .035, .03, .03, .03, .03,
    .03, .03, .03, .03, .03, .035, .03, .03, .03, .03, .03, .03,
    .03, .03, .03, .03, .03, .03, .03, .035, .03, .03, .03, .03,
    .03, .03, .03, .03, .03, .035, .03, .03, .03, .03, .03, .03,
    .03, .03, .03, .03, .03, .03, .03, .035, .03, .03, .03, .03,
    .03, .03, .03, .03, .03, .035, .03, .03, .03, .03, .03, .03,
    .03, .03, .03, .03, .03, .03, .03, .035, .03, .03, .03, .03,
    .03, .03, .03, .03, .03, .035, .03, .03, .03, .03, .03, .03,
    .03, .03, .035, .03, .03, .03, .03, .035, .03, .03, .03, .03,
    .03, .03, .03, .03, .03, .035, .03, .03, .03, .035, .03, .03,
    .03, .03, .035, .03, .035, .03, .03, .035, .03, .03, .03, .03,
    .03, .035, .03, .035, .03, .035, .03, .035, .03, .035, .03, .03,
    .035, .03, .035, .03, .035, .03, .03, .035, .03, .035, .03, .03,
    .03, .035, .03, .035, .035, .04, .03, .035, .035, .04, .035, .03,
    .035, .035, .04, .035, .04, .03, .035, .04, .035, .04, .035, .035,
    .035, .04, .035, .04, .04, .045, .035, .04, .04, .045, .04, .035,
    .04, .04, .045, .04, .045, .035, .04, .05, .04, .045, .04, .04,
    .04, .05, .04, .045, .045, .05, .04, .05, .04, .05, .045, .04,
    .045, .04, .05, .04, .05, .04, .045, .05, .04, .05, .04, .04,
    .04, .045, .04, .04, .04, .05, .04, .045, .04, .045, .04, .04,
    .04, .035, .04, .04, .04, .035, .04, .04, .04, .04, .04, .035,
    .035, .04, .035, .04, .035, .04, .035, .04, .035, .04, .035, .035,
    .035, .03, .035, .035, .035, .03, .035, .04, .03, .035, .035, .03,
    .03, .035, .03, .03, .03, .035, .03, .035, .03, .035, .03, .03,
    .03, .03, .035, .03, .03, .03, .03, .035, .03, .03, .03, .03,
    .03, .03, .03, .03, .03, .035, .03, .03, .03, .03, .03, .03,
    .03, .03, .03, .03, .03, .03, .03, .035, .03, .03, .03, .03,
    .03, .03, .03, .03, .03, .03, .03, .03, .03, .03, .03, .03,
    .03, .03, .03, .03, .03, .03, .03, .03, .03, .03, .03, .03,
    .03, .03, .03, .03, .03, .03, .03, .03, .03, .03, .03, .03,
    .03, .03, .03, .03, .03, .03, .03, .03, .03, .03, .03, .03,
    .03, .03, .03, .03, .03, .03, .03, .03, .03, .03, .03, .03,
    .03, .03, .03, .03, .03, .03, .03, .03, .03, .03, .03, .03,
    .03, .03, .03, .03, .03, .035, .03, .03, .03, .03, .03, .03,
    .03, .03, .035, .03, .035, .03, .03, .035, .03, .03, .03, .03,
    .03, .035, .03, .03, .03, .035, .03, .035, .03, .035, .03, .03,
    .035, .03, .035, .03, .035, .03, .03, .035, .03, .035, .03, .03,
    .03, .035, .03, .035, .035, .04, .03, .035, .035, .04, .035, .03,
    .04, .035, .04, .035, .04, .035, .035, .04, .035, .04, .035, .035,
    .035, .04, .035, .04, .04, .045, .035, .04, .04, .045, .04, .035,
    .04, .04, .045, .04, .045, .04, .04, .05, .04, .045, .04, .04,
    .04, .05, .04, .045, .045, .05, .04, .05, .045, .05, .045, .04,
]

title_text = "RMH-HMB-46\nStar 22733, p: 0.36896 d (OWN) "
x_ticks = [-1.0, -0.5, 0.0, 0.5, 1.0]
y_ticks = [13.8, 14.0, 14.2, 14.4, 14.6]

phase = np.array(edge_phase + core_phase + mid_phase)
mag = np.array(edge_mag + core_mag + mid_mag)
err = np.array(edge_err + core_err + mid_err)

# the fold is shown twice, one period before the other
x = np.concatenate([phase - 1, phase])
y = np.concatenate([mag, mag])
e = np.concatenate([err, err])

fig = plt.figure(figsize=(14.4, 12.8), dpi=100)
ax = fig.add_axes([214 / 1440, 1 - 1094 / 1280, 1143 / 1440, 900 / 1280])
ax.errorbar(x, y, yerr=e, fmt="o", color="tab:blue", ecolor="gray",
            elinewidth=1, markersize=6)

ax.set_xlim(-1.1, 1.1)
ax.set_ylim(14.638, 13.725)
ax.set_xticks(x_ticks)
ax.set_yticks(y_ticks)
ax.tick_params(labelsize=32)
ax.set_xlabel("Phase", fontsize=32, labelpad=31)
ax.set_ylabel("Magnitude", fontsize=32, labelpad=27)
ax.set_title(title_text, fontsize=38.5, pad=33)

fig.savefig("out.png", dpi=100)
